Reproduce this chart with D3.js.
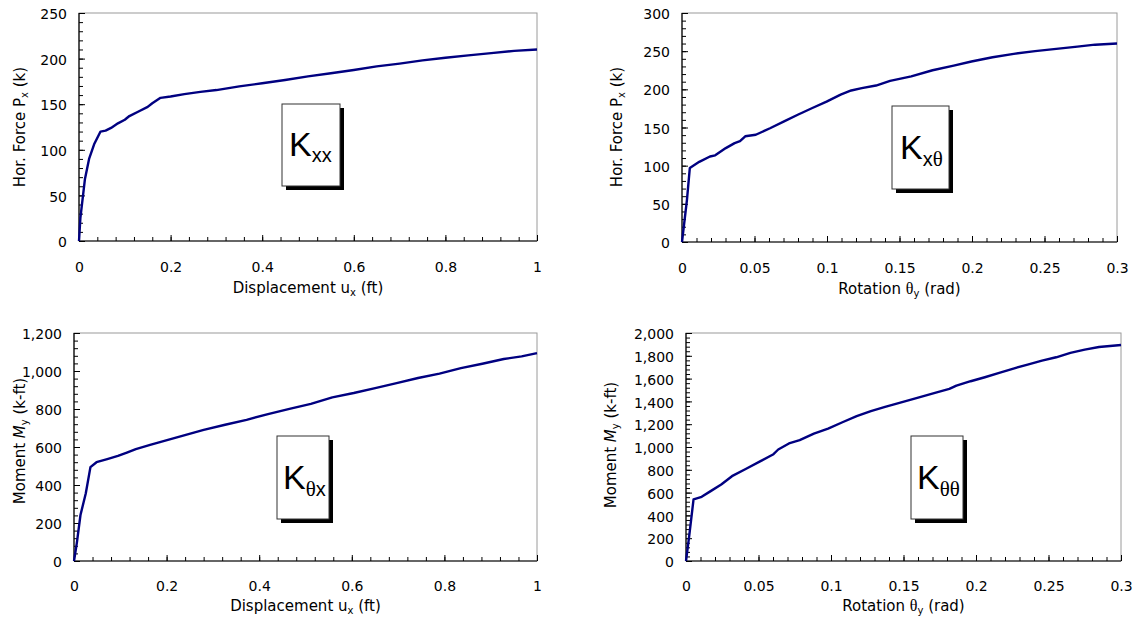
<!DOCTYPE html>
<html><head><meta charset="utf-8">
<script src="https://cdn.jsdelivr.net/npm/d3@7"></script>
<style>
body{margin:0;background:#fff}
svg{display:block}
text{font-family:"DejaVu Sans",sans-serif;fill:#000}
</style>
</head><body>
<svg id="c" width="1138" height="620"></svg>
<script>
// ---------- DATA ----------
// Kxx : Horizontal force vs displacement
const kxxDisp  = [0,0.003,0.013,0.022,0.033,0.047,0.058,0.07,0.085,0.1,0.11,0.13,0.15,0.16,0.178,0.2,0.23,0.265,0.3,0.35,0.4,0.45,0.5,0.55,0.6,0.65,0.7,0.75,0.8,0.85,0.9,0.95,1.0];
const kxxForce = [0,25,68,90,106,120,121,124,129,133,137,142,147,151,157,158.5,161,163.5,165.5,169.5,173,176.5,180.5,184,187.5,191.5,194.5,198,201,203.5,206,208.5,210];
// Kxθ : Horizontal force vs rotation
const kxtRot   = [0,0.0034,0.0054,0.0119,0.0193,0.0229,0.0302,0.0363,0.04,0.0436,0.0509,0.0607,0.0704,0.0802,0.0899,0.0997,0.1094,0.1167,0.124,0.1338,0.1435,0.1581,0.1728,0.1874,0.1996,0.2142,0.2288,0.2435,0.2581,0.2727,0.2849,0.3];
const kxtForce = [0,55,97,105,112,113.5,123,129.5,132,138.5,140.5,149,158,167,175.5,184,193,198.5,201.5,205,211,217,225,231,236.5,242,246.5,250,253,256,258.5,260];
// Kθx : Moment vs displacement
const ktxDisp   = [0,0.006,0.014,0.0255,0.0355,0.0486,0.0718,0.0949,0.1142,0.1335,0.1644,0.2029,0.2415,0.2801,0.3264,0.3727,0.419,0.4653,0.5116,0.5579,0.6042,0.6505,0.6968,0.7431,0.7894,0.8356,0.8819,0.9282,0.9668,1.0];
const ktxMoment = [0,93,242,357,494,520,536,553,571,589,611,638,664,690,717,743,773,801,827,861,884,910,936,963,986,1015,1038,1063,1077,1094];
// Kθθ : Moment vs rotation
const kttRot    = [0,0.0022,0.0052,0.0108,0.017,0.0243,0.0317,0.0415,0.0514,0.06,0.0636,0.071,0.0784,0.0882,0.098,0.1079,0.1177,0.1275,0.1373,0.1472,0.1595,0.1717,0.1816,0.1865,0.1963,0.2061,0.216,0.2258,0.2356,0.2455,0.2553,0.2651,0.275,0.2848,0.3];
const kttMoment = [0,219,540,563,613,671,744,809,876,934,978,1031,1060,1118,1162,1217,1270,1314,1352,1387,1431,1474,1510,1539,1577,1612,1650,1688,1723,1758,1787,1825,1854,1877,1895];

// tick values
const dispTicks   = [0,0.2,0.4,0.6,0.8,1];
const rotTicks    = [0,0.05,0.1,0.15,0.2,0.25,0.3];
const force250Ticks = [0,50,100,150,200,250];
const force300Ticks = [0,50,100,150,200,250,300];
const moment1200Ticks = [0,200,400,600,800,1000,1200];
const moment2000Ticks = [0,200,400,600,800,1000,1200,1400,1600,1800,2000];

// labels
const dispTitle = ["Displacement u","x"," (ft)"];
const rotTitle  = ["Rotation ","θ","y"," (rad)"];
const forceTitle = ["Hor. Force P","x"," (k)"];
const momentTitle = ["Moment ","M","y"," (k-ft)"];
const stiffLabels = [["K","xx"],["K","xθ"],["K","θx"],["K","θθ"]];

// ---------- LAYOUT ----------
const layout = [
  {x0:79, x1:537, yT:13, yB:241, ytx:25, ytc:127, box:[282,104,58,82], kx:289, kb:156, sb:162},
  {x0:682,x1:1117,yT:13, yB:242, ytx:622,ytc:127, box:[892,106,57,83], kx:900, kb:159, sb:166},
  {x0:74, x1:537, yT:333,yB:561, ytx:25, ytc:441, box:[277,436,52,83], kx:283, kb:489, sb:496},
  {x0:686,x1:1121,yT:333,yB:561, ytx:616,ytc:445, box:[911,436,52,83], kx:917, kb:489, sb:496}
];

const panels = [
  {xs:kxxDisp, ys:kxxForce, xd:[0,1],   yd:[0,250],  xt:dispTicks, yt:force250Ticks,  xm:0.04, ym:10, xTitle:"disp", yTitle:"force"},
  {xs:kxtRot,  ys:kxtForce, xd:[0,0.3], yd:[0,300],  xt:rotTicks,  yt:force300Ticks,  xm:0.01, ym:10, xTitle:"rot",  yTitle:"force"},
  {xs:ktxDisp, ys:ktxMoment,xd:[0,1],   yd:[0,1200], xt:dispTicks, yt:moment1200Ticks,xm:0.04, ym:40, xTitle:"disp", yTitle:"moment"},
  {xs:kttRot,  ys:kttMoment,xd:[0,0.3], yd:[0,2000], xt:rotTicks,  yt:moment2000Ticks,xm:0.01, ym:40, xTitle:"rot",  yTitle:"moment"}
];

const svg = d3.select("#c");
const serif = "'Liberation Serif','DejaVu Serif',serif";
const tickFont = "14px";

panels.forEach((p,i)=>{
  const L = layout[i];
  const x = d3.scaleLinear().domain(p.xd).range([L.x0,L.x1]);
  const y = d3.scaleLinear().domain(p.yd).range([L.yB,L.yT]);
  const g = svg.append("g");

  // frame (top/right grey)
  g.append("rect").attr("x",L.x0).attr("y",L.yT).attr("width",L.x1-L.x0).attr("height",L.yB-L.yT)
    .attr("fill","none").attr("stroke","#9a9a9a").attr("stroke-width",1);

  // minor ticks
  const xMinor = d3.range(p.xd[0], p.xd[1]+p.xm/2, p.xm);
  const yMinor = d3.range(p.yd[0], p.yd[1]+p.ym/2, p.ym);
  const xAxis = d3.axisBottom(x).tickValues(xMinor).tickSize(-4).tickFormat("");
  g.append("g").attr("transform",`translate(0,${L.yB})`).call(xAxis)
    .call(s=>s.select(".domain").remove()).selectAll("line").attr("stroke","#000");
  const yAxis = d3.axisLeft(y).tickValues(yMinor).tickSize(-4).tickFormat("");
  g.append("g").attr("transform",`translate(${L.x0},0)`).call(yAxis)
    .call(s=>s.select(".domain").remove()).selectAll("line").attr("stroke","#000");

  // major ticks + labels
  const xMaj = d3.axisBottom(x).tickValues(p.xt).tickSize(-6).tickPadding(0).tickFormat(d3.format(""));
  const gx = g.append("g").attr("transform",`translate(0,${L.yB})`).call(xMaj);
  gx.select(".domain").remove();
  gx.selectAll("line").attr("stroke","#000");
  gx.selectAll("text").attr("y",null).attr("dy",null).attr("transform",`translate(0,${i<2?31:30})`)
    .style("font-size",tickFont).style("font-family","'DejaVu Sans',sans-serif").attr("fill","#000");

  const yMaj = d3.axisLeft(y).tickValues(p.yt).tickSize(-6).tickPadding(12).tickFormat(d3.format(","));
  const gy = g.append("g").attr("transform",`translate(${L.x0},0)`).call(yMaj);
  gy.select(".domain").remove();
  gy.selectAll("line").attr("stroke","#000");
  gy.selectAll("text").attr("dy","0.4em")
    .style("font-size",tickFont).style("font-family","'DejaVu Sans',sans-serif").attr("fill","#000");

  // axis lines
  g.append("line").attr("x1",L.x0).attr("x2",L.x1).attr("y1",L.yB).attr("y2",L.yB).attr("stroke","#000").attr("stroke-width",1.2);
  g.append("line").attr("x1",L.x0).attr("x2",L.x0).attr("y1",L.yT).attr("y2",L.yB).attr("stroke","#000").attr("stroke-width",1.2);

  // x title
  const xt = g.append("text").attr("x",(L.x0+L.x1)/2).attr("y",L.yB+(i<2?52:50))
    .attr("text-anchor","middle").style("font-size","15px");
  if(p.xTitle==="disp"){
    xt.append("tspan").text(dispTitle[0]);
    xt.append("tspan").attr("dy",3).style("font-size","10px").text(dispTitle[1]);
    xt.append("tspan").attr("dy",-3).text(dispTitle[2]);
  } else {
    xt.append("tspan").text(rotTitle[0]);
    xt.append("tspan").style("font-family",serif).style("font-size","16px").text(rotTitle[1]);
    xt.append("tspan").attr("dy",3).style("font-size","10px").text(rotTitle[2]);
    xt.append("tspan").attr("dy",-3).text(rotTitle[3]);
  }

  // y title
  const yt = g.append("text").attr("transform",`translate(${L.ytx},${L.ytc}) rotate(-90)`)
    .attr("text-anchor","middle").style("font-size","15px");
  if(p.yTitle==="force"){
    yt.append("tspan").text(forceTitle[0]);
    yt.append("tspan").attr("dy",3).style("font-size","10px").text(forceTitle[1]);
    yt.append("tspan").attr("dy",-3).text(forceTitle[2]);
  } else {
    yt.append("tspan").text(momentTitle[0]);
    yt.append("tspan").style("font-style","italic").text(momentTitle[1]);
    yt.append("tspan").attr("dy",3).style("font-size","10px").text(momentTitle[2]);
    yt.append("tspan").attr("dy",-3).text(momentTitle[3]);
  }

  // curve
  const pts = p.xs.map((v,k)=>[v,p.ys[k]]);
  g.append("path").datum(pts)
    .attr("d", d3.line().x(d=>x(d[0])).y(d=>y(d[1])))
    .attr("fill","none").attr("stroke","#000080").attr("stroke-width",2.4).attr("stroke-linejoin","round");

  // stiffness label box
  const [bx,by,bw,bh] = L.box;
  g.append("rect").attr("x",bx+4).attr("y",by+4).attr("width",bw).attr("height",bh).attr("fill","#000");
  g.append("rect").attr("x",bx).attr("y",by).attr("width",bw).attr("height",bh).attr("fill","#fff").attr("stroke","#333").attr("stroke-width",1);
  const kt = g.append("text").attr("x",L.kx).attr("y",L.kb).style("font-family","'Liberation Sans',Arial,sans-serif").style("font-size","34px");
  kt.append("tspan").text(stiffLabels[i][0]);
  const sub = stiffLabels[i][1];
  let first = true;
  for(const ch of sub){
    const t = kt.append("tspan");
    if(first){ t.attr("dy", L.sb-L.kb); first=false; }
    if(ch==="θ"){ t.style("font-family",serif).style("font-size","21px"); }
    else { t.style("font-size","20px"); }
    t.text(ch);
  }
});
</script>
</body></html>
